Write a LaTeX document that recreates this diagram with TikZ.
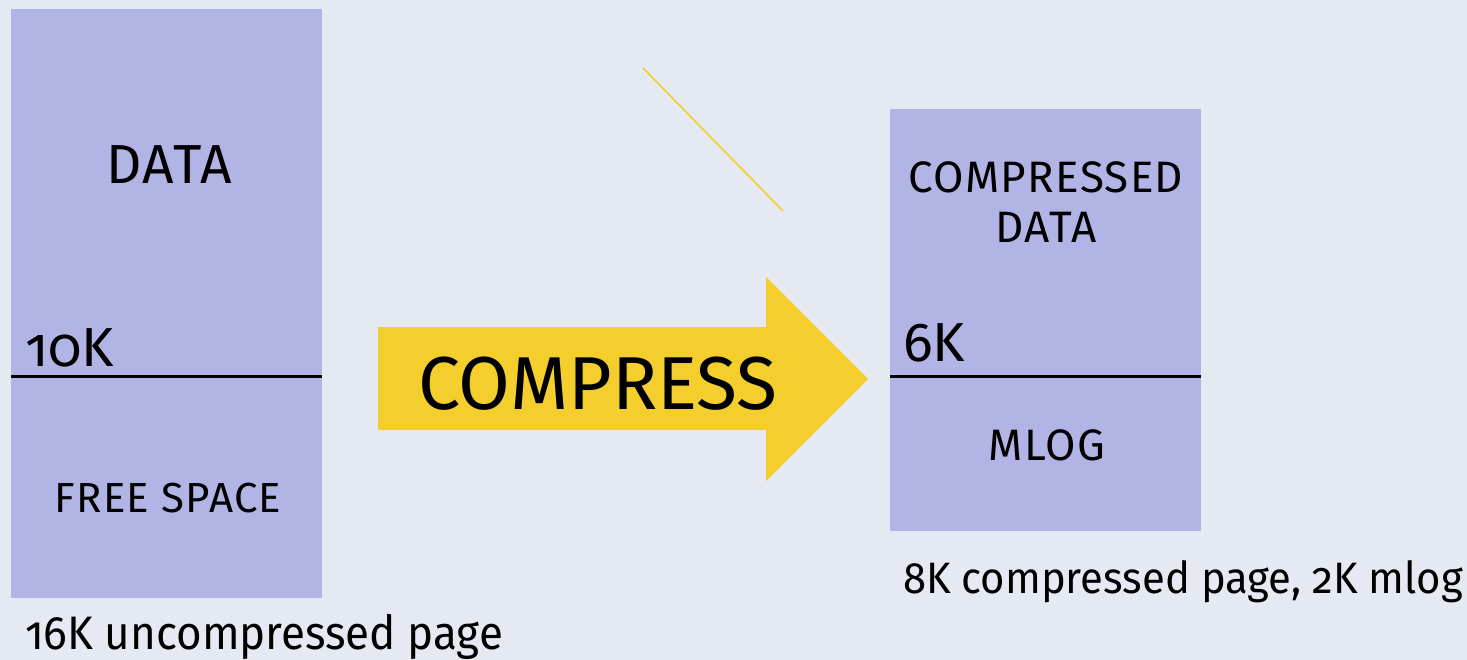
\documentclass[tikz,border=0pt]{standalone}
\usepackage{fontspec}
\setmainfont[Numbers=OldStyle]{Fira Sans}
\newfontfamily\capsfont[Numbers=OldStyle,LetterSpace=3]{Fira Sans}
\newfontfamily\labelfont[Numbers=OldStyle,FakeStretch=0.935]{Fira Sans}
\newfontfamily\widelabelfont[Numbers=OldStyle,FakeStretch=0.95]{Fira Sans}
\definecolor{bgcol}{HTML}{E5EAF2}
\definecolor{pagecol}{HTML}{B3B4E6}
\definecolor{arrowcol}{HTML}{F4CE2C}
\newcommand{\fs}[1]{\fontsize{#1}{#1}\selectfont}
\begin{document}
\begin{tikzpicture}[x=1pt,y=-1pt,
  txt/.style={inner sep=0pt,outer sep=0pt,text=black},
  pagebox/.style={fill=pagecol,draw=none},
  divider/.style={draw=black,line width=3pt}]
  % canvas
  \fill[bgcol] (0,0) rectangle (1467,660);
  \useasboundingbox (0,0) rectangle (1467,660);

  % uncompressed page
  \path[pagebox] (11,9) rectangle (322,598);
  \coordinate (lA) at (11,376);
  \coordinate (lB) at (322,376);
  \draw[divider] (lA) -- (lB);
  \node[txt,anchor=base] (data) at (169,184) {\capsfont\fs{55}DATA};
  \node[txt,anchor=base west] (tenk) at (25,366) {\fs{55}10K};
  \node[txt,anchor=base] (free) at (168,512) {\capsfont\fs{42}FREE SPACE};
  \node[txt,anchor=base west] (ulabel) at (25,649) {\labelfont\fs{47}16K uncompressed page};

  % compress arrow
  \path[fill=arrowcol] (378,327) -- (766,327) -- (766,277) -- (868,379)
       -- (766,481) -- (766,430) -- (378,430) -- cycle;
  \node[txt,anchor=base] (comp) at (598,409) {\fs{75}COMPRESS};

  % stray stroke
  \coordinate (sA) at (643,68);
  \coordinate (sB) at (783,211);
  \draw[arrowcol,line width=1.6pt] (sA) -- (sB);

  % compressed page
  \path[pagebox] (890,109) rectangle (1201,531);
  \coordinate (rA) at (890,376);
  \coordinate (rB) at (1201,376);
  \draw[divider] (rA) -- (rB);
  \node[txt,anchor=base] (cdata1) at (1046,193) {\capsfont\fs{44}COMPRESSED};
  \node[txt,anchor=base] (cdata2) at (1046,243) {\capsfont\fs{44}DATA};
  \node[txt,anchor=base west] (sixk) at (903,361) {\fs{55}6K};
  \node[txt,anchor=base] (mlog) at (1047,460) {\capsfont\fs{44}MLOG};
  \node[txt,anchor=base west] (clabel) at (903,593) {\widelabelfont\fs{44}8K compressed page, 2K mlog};
\end{tikzpicture}
\end{document}
